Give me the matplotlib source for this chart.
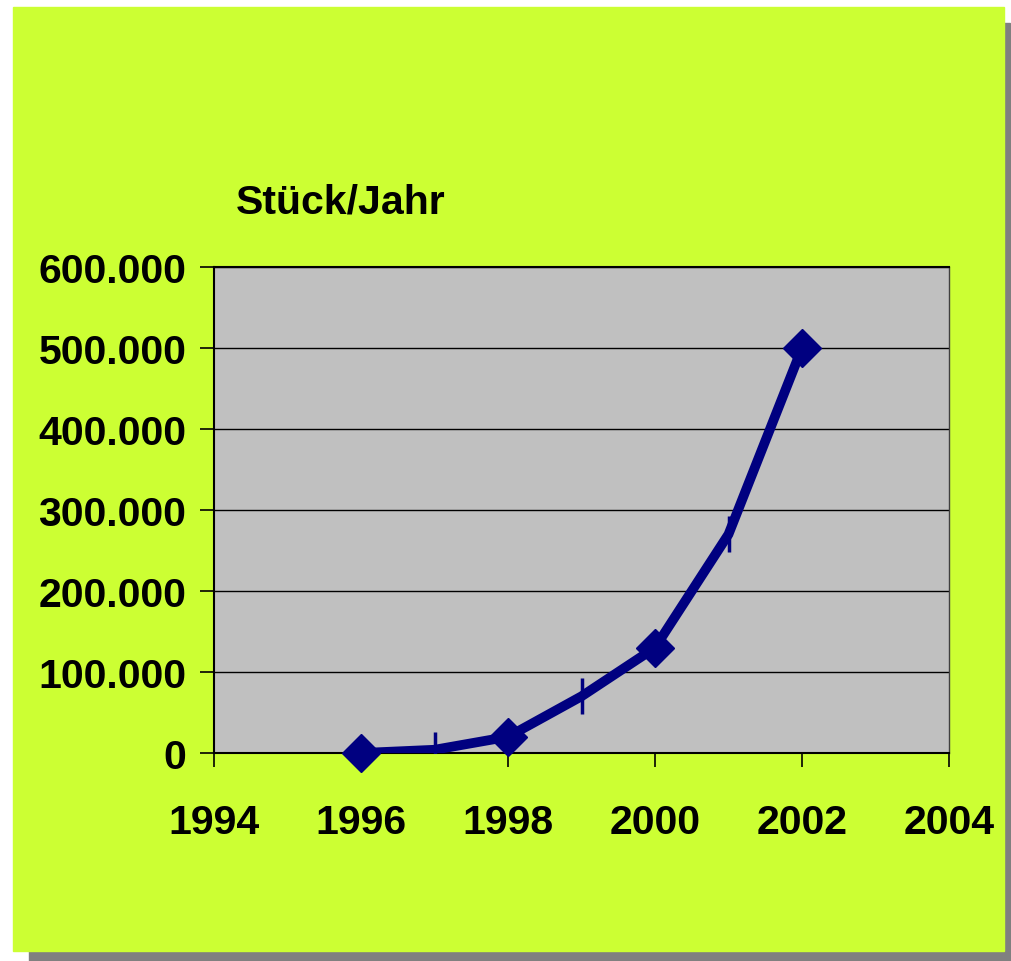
import matplotlib
matplotlib.use("Agg")
import matplotlib.pyplot as plt
from matplotlib.patches import Rectangle
from matplotlib.ticker import FuncFormatter

years = [1996, 1997, 1998, 1999, 2000, 2001, 2002]
stueck = [0, 4000, 20000, 70000, 130000, 270000, 500000]
diamond_years = [1996, 1998, 2000, 2002]
diamond_vals = [0, 20000, 130000, 500000]
bar_years = [1997, 1999, 2001]
bar_vals = [4000, 70000, 270000]

plt.rcParams['font.family'] = ['Liberation Sans', 'DejaVu Sans']
plt.rcParams['font.weight'] = 'bold'

W, H = 1012, 962
fig = plt.figure(figsize=(W / 100, H / 100), dpi=100)
fig.patch.set_facecolor('white')

# shadow + green panel (pixel coords from top-left)
def px_rect(x0, y0, x1, y1, color, z):
    fig.patches.append(Rectangle((x0 / W, 1 - y1 / H), (x1 - x0) / W, (y1 - y0) / H,
                                 transform=fig.transFigure, color=color, zorder=z))

px_rect(29, 24, 1010, 962, '#808080', 0)
px_rect(13, 8, 1004, 952, '#CCFF33', 1)

ax = fig.add_axes([214 / W, 1 - 754 / H, (949 - 214) / W, (754 - 268) / H])
ax.set_facecolor('#C0C0C0')
ax.set_zorder(2)

ax.plot(years, stueck, color='#000080', lw=7, solid_joinstyle='miter', zorder=3)
ax.plot(diamond_years, diamond_vals, ls='none', marker='D', ms=19, color='#000080', zorder=4, clip_on=False)
ax.plot(bar_years, bar_vals, ls='none', marker='|', ms=26, mew=2.5, color='#000080', zorder=4)

ax.set_xlim(1994, 2004)
ax.set_ylim(0, 600000)
ax.set_xticks([1994, 1996, 1998, 2000, 2002, 2004])
ax.set_yticks(range(0, 600001, 100000))
ax.yaxis.set_major_formatter(FuncFormatter(lambda v, p: f'{int(v):,}'.replace(',', '.')))
ax.grid(axis='y', color='black', lw=1)
ax.set_axisbelow(True)

ax.tick_params(axis='y', direction='out', length=10, width=1.2, pad=10, labelsize=29.5)
ax.tick_params(axis='x', direction='out', length=10, width=1.2, pad=26, labelsize=29.5)
for lbl in ax.get_xticklabels() + ax.get_yticklabels():
    lbl.set_fontweight('bold')

for s in ['left', 'bottom', 'top']:
    ax.spines[s].set_color('black')
    ax.spines[s].set_linewidth(1.5)
ax.spines['right'].set_color('#404040')
ax.spines['right'].set_linewidth(1)

fig.text(236 / W, 1 - 203 / H, 'Stück/Jahr', fontsize=29.5, fontweight='bold',
         ha='left', va='center', zorder=5)

fig.savefig('out.png', dpi=100)
